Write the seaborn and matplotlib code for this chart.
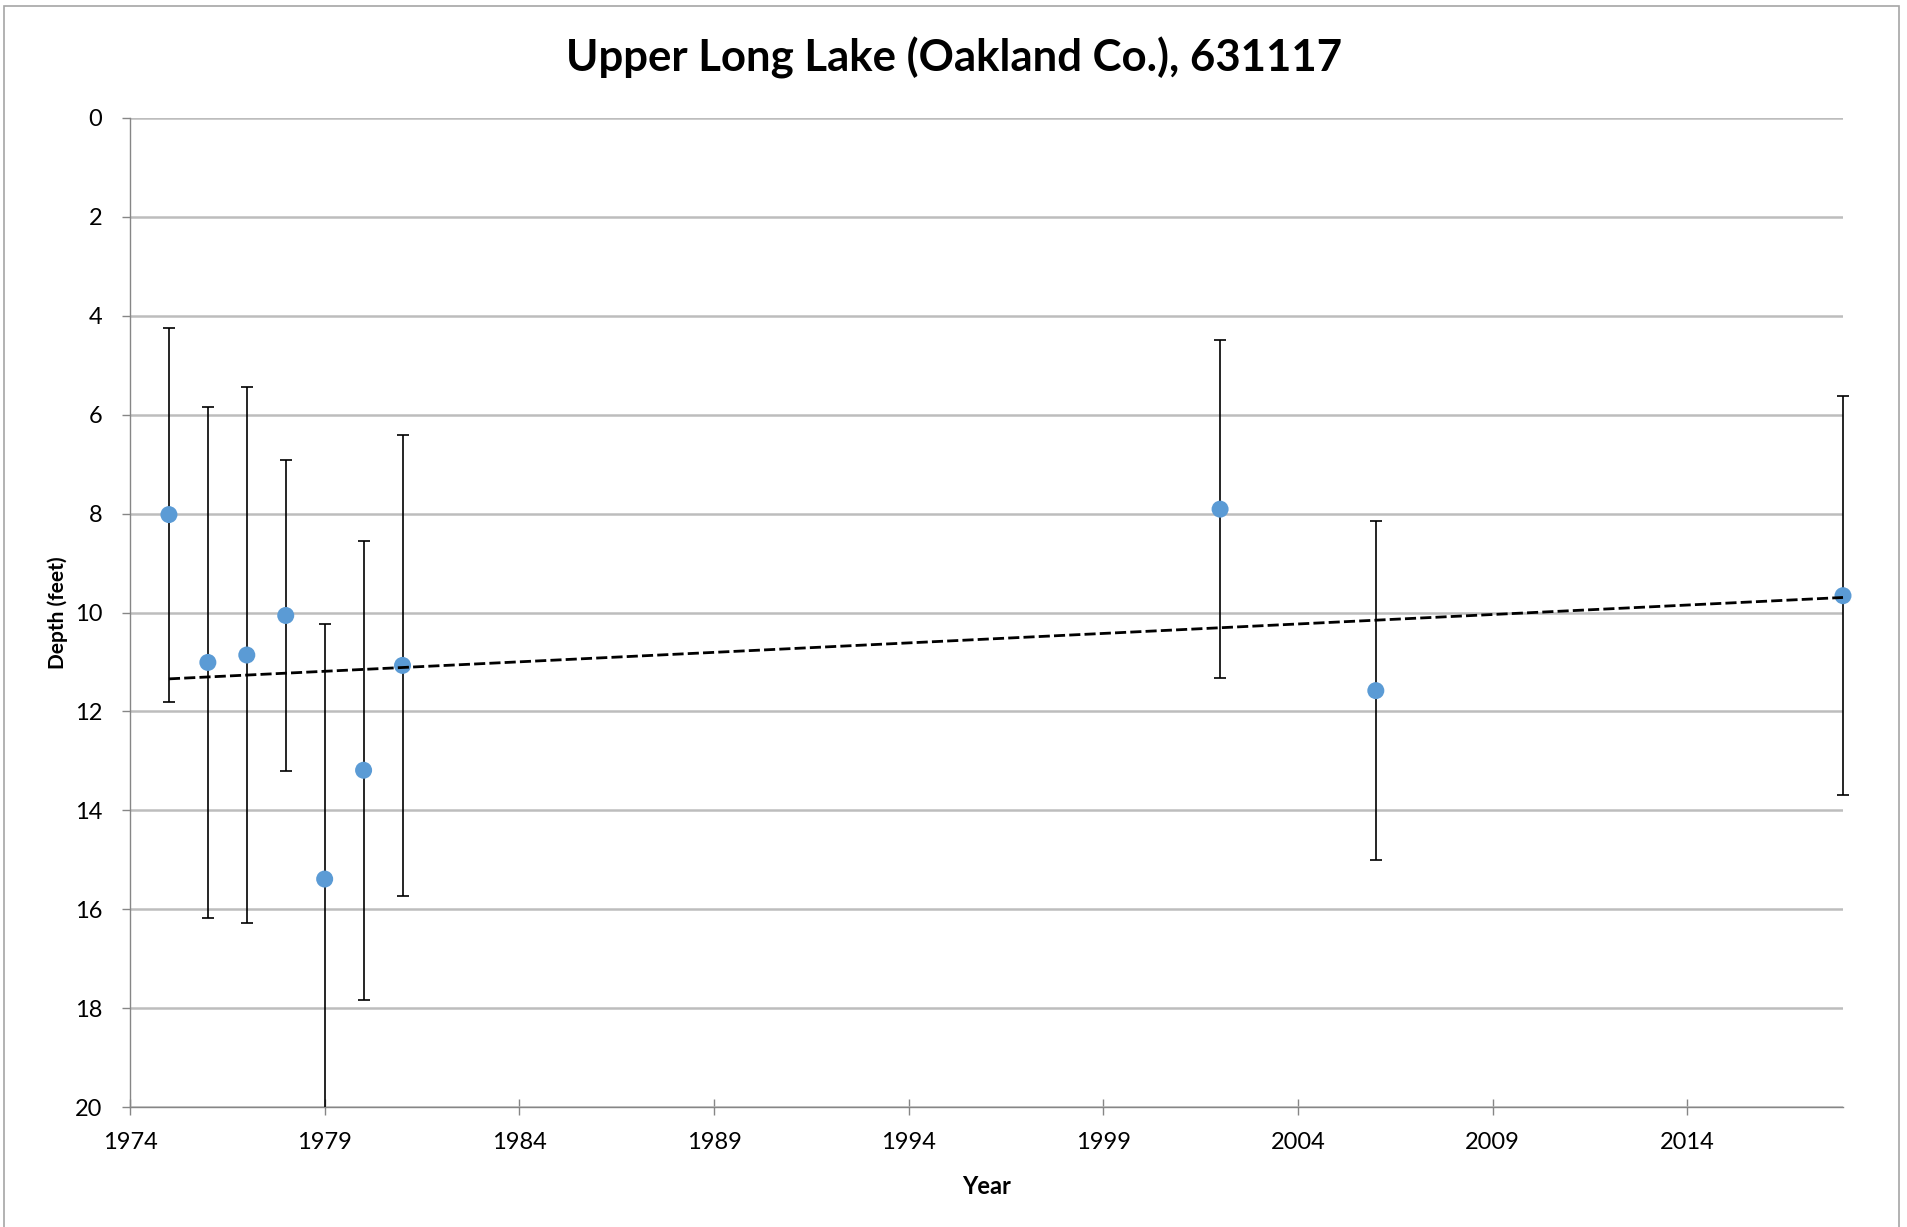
import numpy as np
import pandas as pd
import matplotlib
matplotlib.use("Agg")
import matplotlib.pyplot as plt
import seaborn as sns
from matplotlib.patches import Rectangle

years = [1975, 1976, 1977, 1978, 1979, 1980, 1981, 2002, 2006, 2018]
depth = [8.02, 11.01, 10.86, 10.06, 15.39, 13.19, 11.07, 7.91, 11.58, 9.66]
depth_err = [3.78, 5.17, 5.42, 3.15, 5.15, 4.64, 4.66, 3.42, 3.43, 4.03]
x_ticks = list(range(1974, 2018, 5))
y_ticks = list(range(0, 21, 2))

df = pd.DataFrame({"Year": years, "Depth": depth, "Err": depth_err})

sns.set_theme(style="white")
plt.rcParams["font.family"] = ["Lato", "DejaVu Sans"]
plt.rcParams["text.color"] = "black"

fig = plt.figure(figsize=(19.08, 12.27), dpi=100)
ax = fig.add_axes([130 / 1908, 1 - 1107 / 1227, (1843 - 130) / 1908, (1107 - 118) / 1227])

# chart area border
fig.patches.append(Rectangle((4 / 1908, -0.01), 1895 / 1908, 1 - 6 / 1227 + 0.01,
                             transform=fig.transFigure, fill=False,
                             edgecolor="#a6a6a6", linewidth=1.2))

eb = ax.errorbar(df["Year"], df["Depth"], yerr=df["Err"], fmt="none", ecolor="black",
                 elinewidth=1.2, capsize=4.5, capthick=1.2, zorder=3)
# clip only top/bottom so the 1979 bar stops at 20 but the 2018 bar stays whole
clip = Rectangle((-0.05, 0), 1.1, 1, transform=ax.transAxes)
for art in list(eb.lines[1]) + list(eb.lines[2]):
    art.set_clip_path(clip)

sns.scatterplot(data=df, x="Year", y="Depth", ax=ax, color="#5b9bd5", s=150,
                edgecolor="none", zorder=4, clip_on=False)
sns.regplot(data=df, x="Year", y="Depth", ax=ax, scatter=False, ci=None,
            line_kws=dict(color="black", linewidth=2.0, dashes=(4, 1.5), zorder=5,
                          clip_on=False))

ax.set_xlim(1974, 2018)
ax.set_ylim(20, 0)
ax.set_xticks(x_ticks)
ax.set_yticks(y_ticks)
ax.yaxis.grid(True, color="#bdbdbd", linewidth=1.8)
ax.set_axisbelow(True)
ax.xaxis.grid(False)

for side in ["top", "right"]:
    ax.spines[side].set_visible(False)
ax.spines["left"].set_color("#868686")
ax.spines["left"].set_linewidth(1.0)
ax.spines["bottom"].set_color("#868686")
ax.spines["bottom"].set_linewidth(1.0)

ax.tick_params(axis="x", direction="inout", length=12, width=1, color="#868686",
               labelsize=17, pad=12, labelcolor="black")
ax.tick_params(axis="y", direction="out", length=6, width=1, color="#868686",
               labelsize=17, pad=14, labelcolor="black")
ax.tick_params(axis="x", which="both", bottom=True)
ax.tick_params(axis="y", which="both", left=True)

ax.set_xlabel("Year", fontsize=17, fontweight="bold", labelpad=16, color="black")
ax.set_ylabel("Depth (feet)", fontsize=15, fontweight="bold", labelpad=5, color="black")
fig.text(0.5, 1 - 58 / 1227, "Upper Long Lake (Oakland Co.), 631117",
         ha="center", va="center", fontsize=31.5, fontweight="bold", color="black")

fig.savefig("out.png", dpi=100)
